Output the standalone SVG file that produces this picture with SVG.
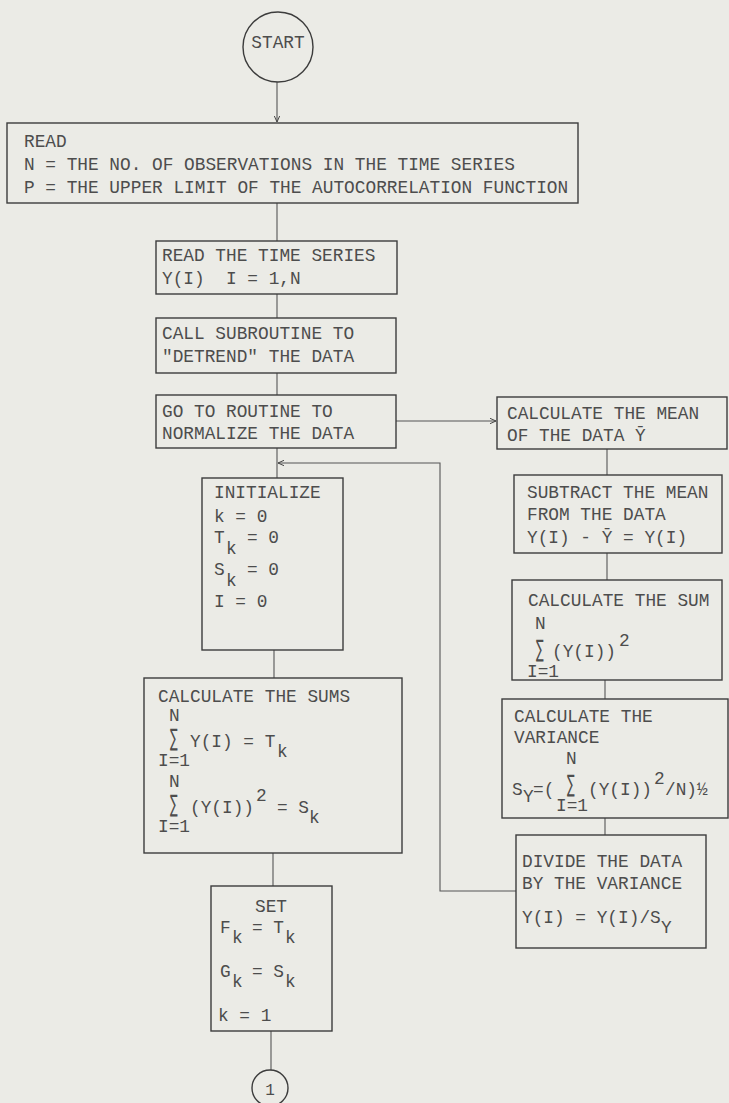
<svg xmlns="http://www.w3.org/2000/svg" width="729" height="1103" viewBox="0 0 729 1103">
<style>
.bx{fill:none;stroke:#3c3c3c;stroke-width:1.4}
.ln{fill:none;stroke:#555;stroke-width:1.1}
text{font-family:"Liberation Mono","DejaVu Sans Mono",monospace;font-size:17.8px;fill:#4d4d4d}
.sig{font-family:"DejaVu Sans",sans-serif;font-size:24px}
</style>
<defs>
<marker id="ah" viewBox="0 0 10 10" refX="9" refY="5" markerWidth="7" markerHeight="7" orient="auto" markerUnits="userSpaceOnUse">
<path d="M0,1 L9,5 L0,9" fill="none" stroke="#444" stroke-width="1.4"/>
</marker>
</defs>
<rect x="0" y="0" width="729" height="1103" fill="#ebebe6"/>

<g id="connectors">
<line class="ln" x1="277" y1="82" x2="277" y2="122" marker-end="url(#ah)"/>
<line class="ln" x1="277" y1="203" x2="277" y2="241"/>
<line class="ln" x1="277" y1="294" x2="277" y2="318"/>
<line class="ln" x1="277" y1="373" x2="277" y2="395"/>
<line class="ln" x1="396" y1="421" x2="496" y2="421" marker-end="url(#ah)"/>
<line class="ln" x1="277" y1="448" x2="277" y2="478"/>
<line class="ln" x1="274" y1="650" x2="274" y2="678"/>
<line class="ln" x1="273" y1="853" x2="273" y2="886"/>
<line class="ln" x1="271" y1="1031" x2="271" y2="1070"/>
<line class="ln" x1="607" y1="449" x2="607" y2="475"/>
<line class="ln" x1="607" y1="553" x2="607" y2="580"/>
<line class="ln" x1="605" y1="680" x2="605" y2="699"/>
<line class="ln" x1="605" y1="818" x2="605" y2="835"/>
<polyline class="ln" points="516,891 440,891 440,463 278,463" marker-end="url(#ah)"/>
</g>

<g id="start">
<circle cx="278" cy="47" r="35" class="bx"/>
<text x="278" y="48" text-anchor="middle">START</text>
</g>

<g id="read">
<rect x="7" y="123" width="571" height="80" class="bx"/>
<text x="24" y="147">READ</text>
<text x="24" y="170">N = THE NO. OF OBSERVATIONS IN THE TIME SERIES</text>
<text x="24" y="193">P = THE UPPER LIMIT OF THE AUTOCORRELATION FUNCTION</text>
</g>

<g id="readseries">
<rect x="156" y="241" width="241" height="53" class="bx"/>
<text x="162" y="261">READ THE TIME SERIES</text>
<text x="162" y="284">Y(I)</text>
<text x="226" y="284">I = 1,N</text>
</g>

<g id="detrend">
<rect x="156" y="318" width="240" height="55" class="bx"/>
<text x="162" y="339">CALL SUBROUTINE TO</text>
<text x="162" y="362">"DETREND" THE DATA</text>
</g>

<g id="normalize">
<rect x="156" y="395" width="240" height="53" class="bx"/>
<text x="162" y="417">GO TO ROUTINE TO</text>
<text x="162" y="439">NORMALIZE THE DATA</text>
</g>

<g id="initialize">
<rect x="202" y="478" width="141" height="172" class="bx"/>
<text x="214" y="498">INITIALIZE</text>
<text x="214" y="522">k = 0</text>
<text x="214" y="543">T</text>
<text x="226" y="554">k</text>
<text x="247" y="543">= 0</text>
<text x="214" y="575">S</text>
<text x="226" y="586">k</text>
<text x="247" y="575">= 0</text>
<text x="214" y="607">I = 0</text>
</g>

<g id="sums">
<rect x="144" y="678" width="258" height="175" class="bx"/>
<text x="158" y="702">CALCULATE THE SUMS</text>
<text x="169" y="721">N</text>
<text class="sig" transform="translate(170,746) scale(0.48,1)">∑</text>
<text x="190" y="747">Y(I) = T</text>
<text x="277" y="757">k</text>
<text x="158" y="766">I=1</text>
<text x="169" y="787">N</text>
<text class="sig" transform="translate(170,812) scale(0.48,1)">∑</text>
<text x="190" y="813">(Y(I))</text>
<text x="256" y="801">2</text>
<text x="277" y="813">= S</text>
<text x="309" y="823">k</text>
<text x="158" y="832">I=1</text>
</g>

<g id="set">
<rect x="211" y="886" width="121" height="145" class="bx"/>
<text x="271" y="912" text-anchor="middle">SET</text>
<text x="220" y="933">F</text>
<text x="232" y="943">k</text>
<text x="252" y="933">= T</text>
<text x="285" y="943">k</text>
<text x="220" y="977">G</text>
<text x="232" y="987">k</text>
<text x="252" y="977">= S</text>
<text x="285" y="987">k</text>
<text x="218" y="1021">k = 1</text>
</g>

<g id="conn1">
<circle cx="270" cy="1088" r="18" class="bx"/>
<text x="270" y="1095" text-anchor="middle" style="font-size:16px">1</text>
</g>

<g id="mean">
<rect x="497" y="397" width="230" height="52" class="bx"/>
<text x="507" y="419">CALCULATE THE MEAN</text>
<text x="507" y="441">OF THE DATA Ȳ</text>
</g>

<g id="subtract">
<rect x="514" y="475" width="208" height="78" class="bx"/>
<text x="527" y="498">SUBTRACT THE MEAN</text>
<text x="527" y="520">FROM THE DATA</text>
<text x="527" y="543">Y(I) - Ȳ = Y(I)</text>
</g>

<g id="sum">
<rect x="512" y="580" width="210" height="100" class="bx"/>
<text x="528" y="606">CALCULATE THE SUM</text>
<text x="535" y="629">N</text>
<text class="sig" transform="translate(536,657) scale(0.48,1)">∑</text>
<text x="552" y="657">(Y(I))</text>
<text x="619" y="646">2</text>
<text x="527" y="677">I=1</text>
</g>

<g id="variance">
<rect x="502" y="699" width="226" height="119" class="bx"/>
<text x="514" y="722">CALCULATE THE</text>
<text x="514" y="743">VARIANCE</text>
<text x="566" y="764">N</text>
<text x="512" y="795">S</text>
<text x="523" y="802">Y</text>
<text x="533" y="795">=(</text>
<text class="sig" transform="translate(567,792) scale(0.48,1)">∑</text>
<text x="588" y="795">(Y(I))</text>
<text x="654" y="784">2</text>
<text x="665" y="795">/N)½</text>
<text x="556" y="811">I=1</text>
</g>

<g id="divide">
<rect x="516" y="835" width="190" height="113" class="bx"/>
<text x="522" y="867">DIVIDE THE DATA</text>
<text x="522" y="889">BY THE VARIANCE</text>
<text x="522" y="923">Y(I) = Y(I)/S</text>
<text x="661" y="933">Y</text>
</g>
</svg>
